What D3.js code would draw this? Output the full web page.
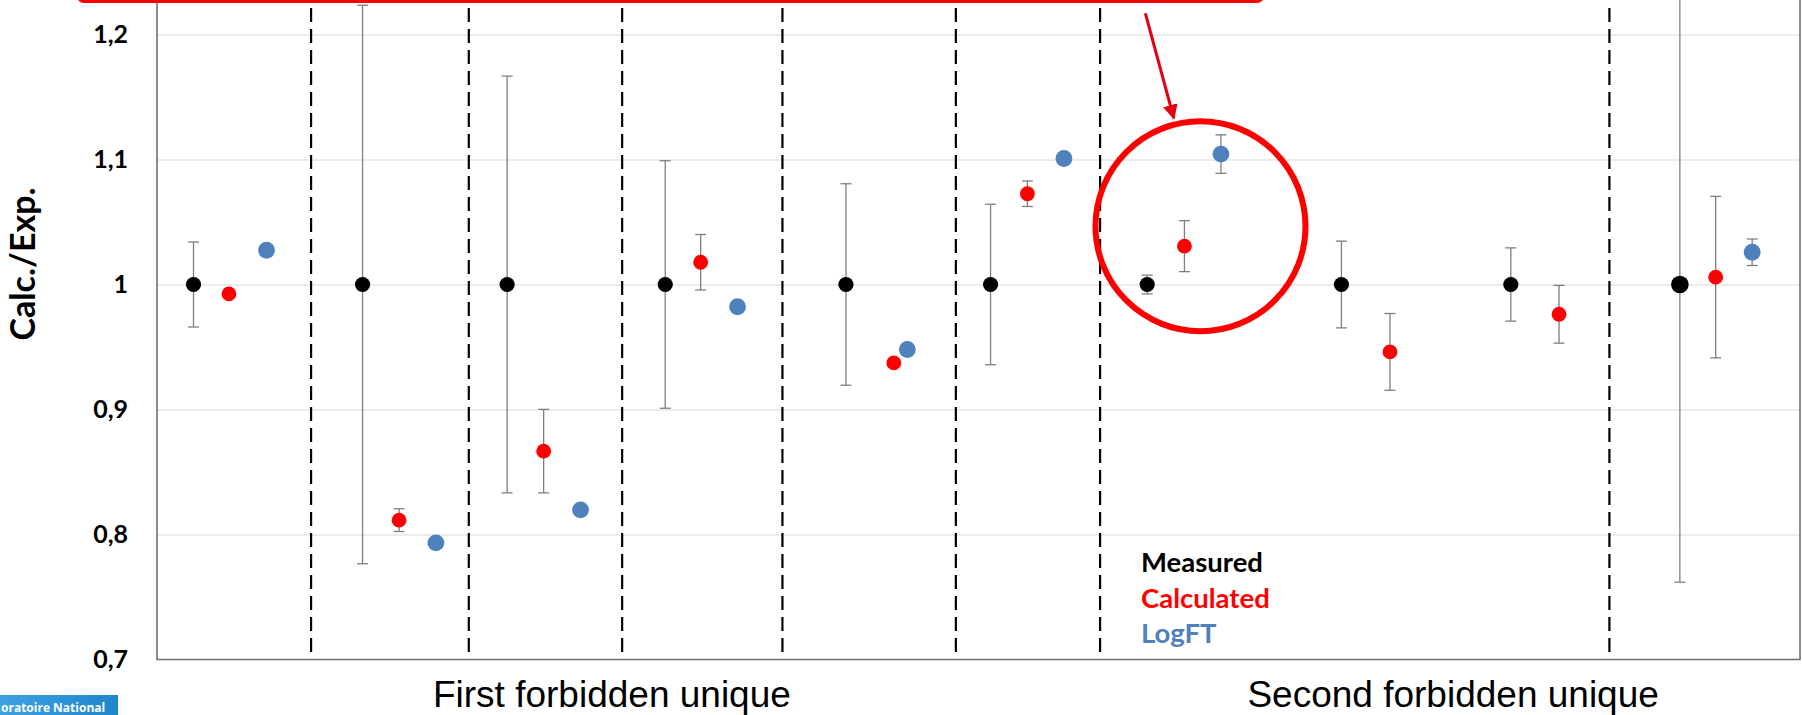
<!DOCTYPE html>
<html>
<head>
<meta charset="utf-8">
<script src="https://cdn.jsdelivr.net/npm/d3@7/dist/d3.min.js"></script>
<style>
    html, body { margin: 0; padding: 0; background: #fff; }
    svg { display: block; }
    .tick-label { font-family: Lato, "Open Sans", sans-serif; font-weight: 700; }
</style>
</head>
<body>
<div id="chart"></div>
<script>
// ===========================
// Calc./Exp. ratio chart
// Measured vs Calculated vs LogFT, grouped by transition
// ===========================

// --- data ---
const measuredX = [1.00, 5.63, 9.59, 13.92, 18.87, 22.83, 27.12, 32.44, 37.08, 41.71];
const measuredY = [1, 1, 1, 1, 1, 1, 1, 1, 1, 1];
const measuredErr = [0.034, 0.2234, 0.1667, 0.099, 0.0806, 0.0642, 0.0075, 0.0347, 0.0293, 0.2382];

const calculatedX = [1.97, 6.63, 10.59, 14.89, 20.18, 23.84, 28.14, 33.77, 38.40, 42.69];
const calculatedY = [0.9925, 0.8115, 0.8667, 1.0178, 0.9373, 1.0726, 1.0307, 0.9461, 0.9762, 1.0059];
const calculatedErr = [null, 0.0091, 0.0334, 0.0222, null, 0.0102, 0.0204, 0.0307, 0.0231, 0.0646];

const logftX = [3.00, 7.64, 11.60, 15.90, 20.55, 24.84, 29.14, 43.69];
const logftY = [1.0274, 0.7933, 0.8197, 0.9822, 0.9480, 1.1008, 1.1043, 1.0258];
const logftErr = [null, null, null, null, null, null, 0.0154, 0.0106];

const separatorX = [4.22, 8.54, 12.74, 17.13, 21.88, 25.83, 39.78];

const groupLabels = ['First forbidden unique', 'Second forbidden unique'];
const groupLabelX = [12.46, 35.50];

const yTicks = [0.7, 0.8, 0.9, 1.0, 1.1, 1.2];
const yTickLabels = ['0,7', '0,8', '0,9', '1', '1,1', '1,2'];

const seriesNames = ['Measured', 'Calculated', 'LogFT'];

// highlighted point (annotation circle centre) and arrow, in data units
const highlightCenter = [28.58, 1.0466];
const arrowFrom = [27.07, 1.217];
const arrowTo = [27.85, 1.133];

// --- layout ---
const width = 1802;
const height = 715;
const plot = { left: 157, right: 1800, bottom: 659.5 };

const colors = {
    measured: '#000000',
    calculated: '#ff0000',
    logft: '#4f81bd',
    errorBar: '#7f7f7f',
    axis: '#707070',
    grid: '#d9d9d9'
};

const svg = d3.select('#chart')
    .append('svg')
    .attr('width', width)
    .attr('height', height);

const xScale = d3.scaleLinear()
    .domain([0, 45])
    .range([plot.left, plot.right]);

const yScale = d3.scaleLinear()
    .domain([0.7, 1.3])
    .range([plot.bottom, plot.bottom - 0.6 * 1250]);

// gridlines
svg.append('g')
    .attr('transform', `translate(${plot.left},0)`)
    .call(d3.axisLeft(yScale).tickValues(yTicks.slice(1)).tickSize(-(plot.right - plot.left)).tickFormat(''))
    .call(g => g.select('.domain').remove())
    .call(g => g.selectAll('line').attr('stroke', colors.grid).attr('stroke-width', 1.2));

// y tick labels
svg.append('g')
    .attr('transform', `translate(${plot.left},0)`)
    .call(d3.axisLeft(yScale).tickValues(yTicks).tickSize(0).tickPadding(29)
        .tickFormat((d, i) => yTickLabels[i]))
    .call(g => g.select('.domain').remove())
    .call(g => g.selectAll('text')
        .attr('class', 'tick-label')
        .attr('fill', '#000')
        .style('font-size', '25px'));

// dashed separators
svg.append('g')
    .selectAll('line')
    .data(separatorX)
    .join('line')
    .attr('x1', d => xScale(d))
    .attr('x2', d => xScale(d))
    .attr('y1', 8)
    .attr('y2', plot.bottom)
    .attr('stroke', '#000')
    .attr('stroke-width', 2.2)
    .attr('stroke-dasharray', '14,7');

// plot frame
svg.append('path')
    .attr('d', `M${plot.left},0 V${plot.bottom} H${plot.right} V0`)
    .attr('fill', 'none')
    .attr('stroke', colors.axis)
    .attr('stroke-width', 1.6);

// series (last measured marker is drawn a bit bigger in the original)
const series = [
    { name: 'measured', xs: measuredX, ys: measuredY, errs: measuredErr, r: (d, i) => i === 9 ? 8.8 : 7.6 },
    { name: 'calculated', xs: calculatedX, ys: calculatedY, errs: calculatedErr, r: () => 7.4 },
    { name: 'logft', xs: logftX, ys: logftY, errs: logftErr, r: () => 8.4 }
];

series.forEach(s => {
    const pts = s.xs.map((x, i) => ({ x, y: s.ys[i], err: s.errs[i] }));
    const g = svg.append('g').attr('class', 'series-' + s.name);

    const bars = g.selectAll('.err')
        .data(pts.filter(d => d.err != null))
        .join('g')
        .attr('class', 'err')
        .attr('stroke', colors.errorBar)
        .attr('stroke-width', 1.3);

    bars.append('line')
        .attr('x1', d => xScale(d.x))
        .attr('x2', d => xScale(d.x))
        .attr('y1', d => yScale(d.y + d.err))
        .attr('y2', d => yScale(d.y - d.err));

    [1, -1].forEach(sign => {
        bars.append('line')
            .attr('x1', d => xScale(d.x) - 5.5)
            .attr('x2', d => xScale(d.x) + 5.5)
            .attr('y1', d => yScale(d.y + sign * d.err))
            .attr('y2', d => yScale(d.y + sign * d.err));
    });

    g.selectAll('circle')
        .data(pts)
        .join('circle')
        .attr('cx', d => xScale(d.x))
        .attr('cy', d => yScale(d.y))
        .attr('r', s.r)
        .attr('fill', colors[s.name]);
});

// group labels
svg.append('g')
    .selectAll('text')
    .data(groupLabels)
    .join('text')
    .attr('x', (d, i) => xScale(groupLabelX[i]))
    .attr('y', 707)
    .attr('text-anchor', 'middle')
    .style('font-family', '"Liberation Sans", Arial, sans-serif')
    .style('font-size', '37px')
    .attr('fill', '#000')
    .text(d => d);

// y axis title
svg.append('text')
    .attr('transform', 'translate(35,264) rotate(-90)')
    .attr('text-anchor', 'middle')
    .style('font-family', 'Lato, sans-serif')
    .style('font-weight', '700')
    .style('font-size', '34px')
    .attr('fill', '#000')
    .text('Calc./Exp.');

// legend (text only)
const legendColors = [colors.measured, colors.calculated, colors.logft];
svg.append('g')
    .attr('transform', 'translate(1141,572)')
    .selectAll('text')
    .data(seriesNames)
    .join('text')
    .attr('y', (d, i) => i * 35.6)
    .style('font-family', 'Lato, sans-serif')
    .style('font-weight', '700')
    .style('font-size', '27.5px')
    .attr('fill', (d, i) => legendColors[i])
    .text(d => d);

// annotation: box edge, arrow and circle
const annot = svg.append('g').attr('class', 'annotation');

annot.append('rect')
    .attr('x', 79)
    .attr('y', -60)
    .attr('width', 1183)
    .attr('height', 61)
    .attr('rx', 5)
    .attr('fill', 'none')
    .attr('stroke', '#ff0000')
    .attr('stroke-width', 4);

svg.append('defs').append('marker')
    .attr('id', 'arrowhead')
    .attr('viewBox', '0 0 10 10')
    .attr('refX', 9)
    .attr('refY', 5)
    .attr('markerWidth', 5)
    .attr('markerHeight', 5)
    .attr('markerUnits', 'strokeWidth')
    .attr('orient', 'auto')
    .append('path')
    .attr('d', 'M0,0 L10,5 L0,10 z')
    .attr('fill', '#e60012');

annot.append('line')
    .attr('x1', xScale(arrowFrom[0]))
    .attr('y1', yScale(arrowFrom[1]))
    .attr('x2', xScale(arrowTo[0]))
    .attr('y2', yScale(arrowTo[1]))
    .attr('stroke', '#e60012')
    .attr('stroke-width', 3)
    .attr('marker-end', 'url(#arrowhead)');

annot.append('circle')
    .attr('cx', xScale(highlightCenter[0]))
    .attr('cy', yScale(highlightCenter[1]))
    .attr('r', 105)
    .attr('fill', 'none')
    .attr('stroke', '#ff0000')
    .attr('stroke-width', 6);

// cut-off logo in the bottom-left corner
const grad = svg.select('defs').append('linearGradient')
    .attr('id', 'logo-grad')
    .attr('x1', '0%').attr('x2', '100%');
grad.append('stop').attr('offset', '0%').attr('stop-color', '#3da2e2');
grad.append('stop').attr('offset', '100%').attr('stop-color', '#1f86cc');

svg.append('rect')
    .attr('x', 0)
    .attr('y', 695)
    .attr('width', 118)
    .attr('height', 20)
    .attr('fill', 'url(#logo-grad)');

svg.append('text')
    .attr('x', 1)
    .attr('y', 712)
    .style('font-family', '"Open Sans", sans-serif')
    .style('font-weight', '700')
    .style('font-size', '12px')
    .attr('fill', '#fff')
    .text('oratoire National');
</script>
</body>
</html>
